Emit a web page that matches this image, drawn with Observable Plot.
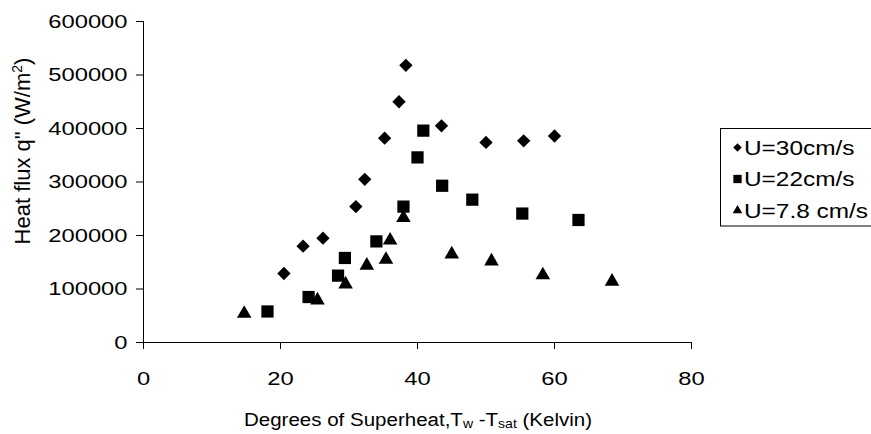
<!DOCTYPE html>
<html>
<head>
<meta charset="utf-8">
<script src="https://cdn.jsdelivr.net/npm/d3@7"></script>
<script src="https://cdn.jsdelivr.net/npm/@observablehq/plot@0.6"></script>
<style>
  html, body { margin: 0; padding: 0; background: white; }
  #chart { width: 871px; height: 434px; }
</style>
</head>
<body>
<div id="chart"></div>
<script>
// ---- data ----
const u30x = [20.5, 23.3, 26.2, 31.0, 32.3, 35.2, 37.3, 38.3, 43.5, 50.0, 55.5, 60.0];
const u30y = [129000, 180000, 195000, 254000, 305000, 382000, 450000, 518000, 405000, 374000, 377000, 386000];
const u22x = [18.1, 24.1, 28.4, 29.4, 34.0, 37.95, 40.0, 40.85, 43.6, 48.0, 55.3, 63.5];
const u22y = [58000, 85000, 125000, 158000, 189000, 254000, 346000, 396000, 293000, 267000, 241000, 229000];
const u78x = [14.7, 25.4, 29.5, 32.6, 35.4, 36.0, 37.95, 45.0, 50.8, 58.3, 68.4];
const u78y = [54000, 79000, 109000, 144000, 155000, 191000, 233000, 165000, 152000, 126000, 114000];
const seriesNames = ["U=30cm/s", "U=22cm/s", "U=7.8 cm/s"];
const xTicks = [0, 20, 40, 60, 80];
const yTicks = [0, 100000, 200000, 300000, 400000, 500000, 600000];
const xTitle = ["Degrees of Superheat,T", "w", " -T", "sat", " (Kelvin)"];
const yTitle = ["Heat flux q\" (W/m", "2", ")"];

const toRows = (xs, ys) => xs.map((x, i) => ({x, y: ys[i]}));
const d30 = toRows(u30x, u30y);
const d22 = toRows(u22x, u22y);
const d78 = toRows(u78x, u78y);

const FONT = "'Liberation Sans', Arial, Helvetica, sans-serif";

const chart = Plot.plot({
  width: 871,
  height: 434,
  marginLeft: 143,
  marginRight: 180,
  marginTop: 21,
  marginBottom: 92,
  style: {fontFamily: FONT, fontSize: "19px", background: "white", color: "black"},
  x: {domain: [0, 80], ticks: xTicks, tickSize: 7, tickPadding: 22, label: null, tickFormat: d3.format("d")},
  y: {domain: [0, 600000], ticks: yTicks, tickSize: 7, tickPadding: 9, label: null, tickFormat: d3.format("d")},
  marks: [
    Plot.ruleX([0], {y1: 0, y2: 600000, stroke: "black"}),
    Plot.ruleY([0], {x1: 0, x2: 80, stroke: "black"}),
    Plot.dot(d78, {x: "x", y: "y", symbol: "triangle", r: 5.4, fill: "black"}),
    Plot.dot(d22, {x: "x", y: "y", symbol: "square", r: 6.9, fill: "black"}),
    Plot.dot(d30, {x: "x", y: "y", symbol: "diamond2", r: 6.0, fill: "black"})
  ]
});

document.getElementById("chart").appendChild(chart);
const svg = d3.select(chart);

// horizontally stretched tick labels, as in the reference
svg.selectAll('g[aria-label="y-axis tick label"] text, g[aria-label="x-axis tick label"] text').each(function () {
  const el = this;
  let t = el.getAttribute("transform") || "";
  const xa = el.getAttribute("x");
  if (xa !== null && xa !== "" && !isNaN(+xa)) {
    t += ` translate(${+xa},0)`;
    el.removeAttribute("x");
  }
  el.setAttribute("transform", t + " scale(1.25,1)");
});

// x-axis title with subscripts
const xt = svg.append("g")
  .attr("transform", "translate(418,425.5) scale(1.08,1)")
  .append("text")
  .attr("text-anchor", "middle")
  .style("font-family", FONT)
  .style("font-size", "19px")
  .attr("fill", "black");
xt.append("tspan").text(xTitle[0]);
xt.append("tspan").attr("dy", 2).style("font-size", "13px").text(xTitle[1]);
xt.append("tspan").attr("dy", -2).text(xTitle[2]);
xt.append("tspan").attr("dy", 2).style("font-size", "13px").text(xTitle[3]);
xt.append("tspan").attr("dy", -2).text(xTitle[4]);

// y-axis title with superscript
const yt = svg.append("g")
  .attr("transform", "translate(30,151) rotate(-90)")
  .append("text")
  .attr("text-anchor", "middle")
  .style("font-family", FONT)
  .style("font-size", "22px")
  .attr("fill", "black");
yt.append("tspan").text(yTitle[0]);
yt.append("tspan").attr("dy", -8).style("font-size", "14px").text(yTitle[1]);
yt.append("tspan").attr("dy", 8).text(yTitle[2]);

// legend box
const lg = svg.append("g").attr("text-anchor", "start");
lg.append("rect")
  .attr("x", 720.5).attr("y", 128.5).attr("width", 170).attr("height", 97.5)
  .attr("fill", "white").attr("stroke", "black").attr("stroke-width", 1);
const legendSymbols = [
  d3.symbol(d3.symbolDiamond2, 46)(),
  d3.symbol(d3.symbolSquare, 69)(),
  d3.symbol(d3.symbolTriangle, 40)()
];
const rowY = [147.5, 179, 210.5];
seriesNames.forEach((name, i) => {
  lg.append("path")
    .attr("d", legendSymbols[i])
    .attr("transform", `translate(737.5,${rowY[i]})`)
    .attr("fill", "black");
  lg.append("text")
    .attr("text-anchor", "start")
    .attr("transform", `translate(744,${rowY[i] + 7}) scale(1.22,1)`)
    .style("font-family", FONT)
    .style("font-size", "20px")
    .attr("fill", "black")
    .text(name);
});
</script>
</body>
</html>
